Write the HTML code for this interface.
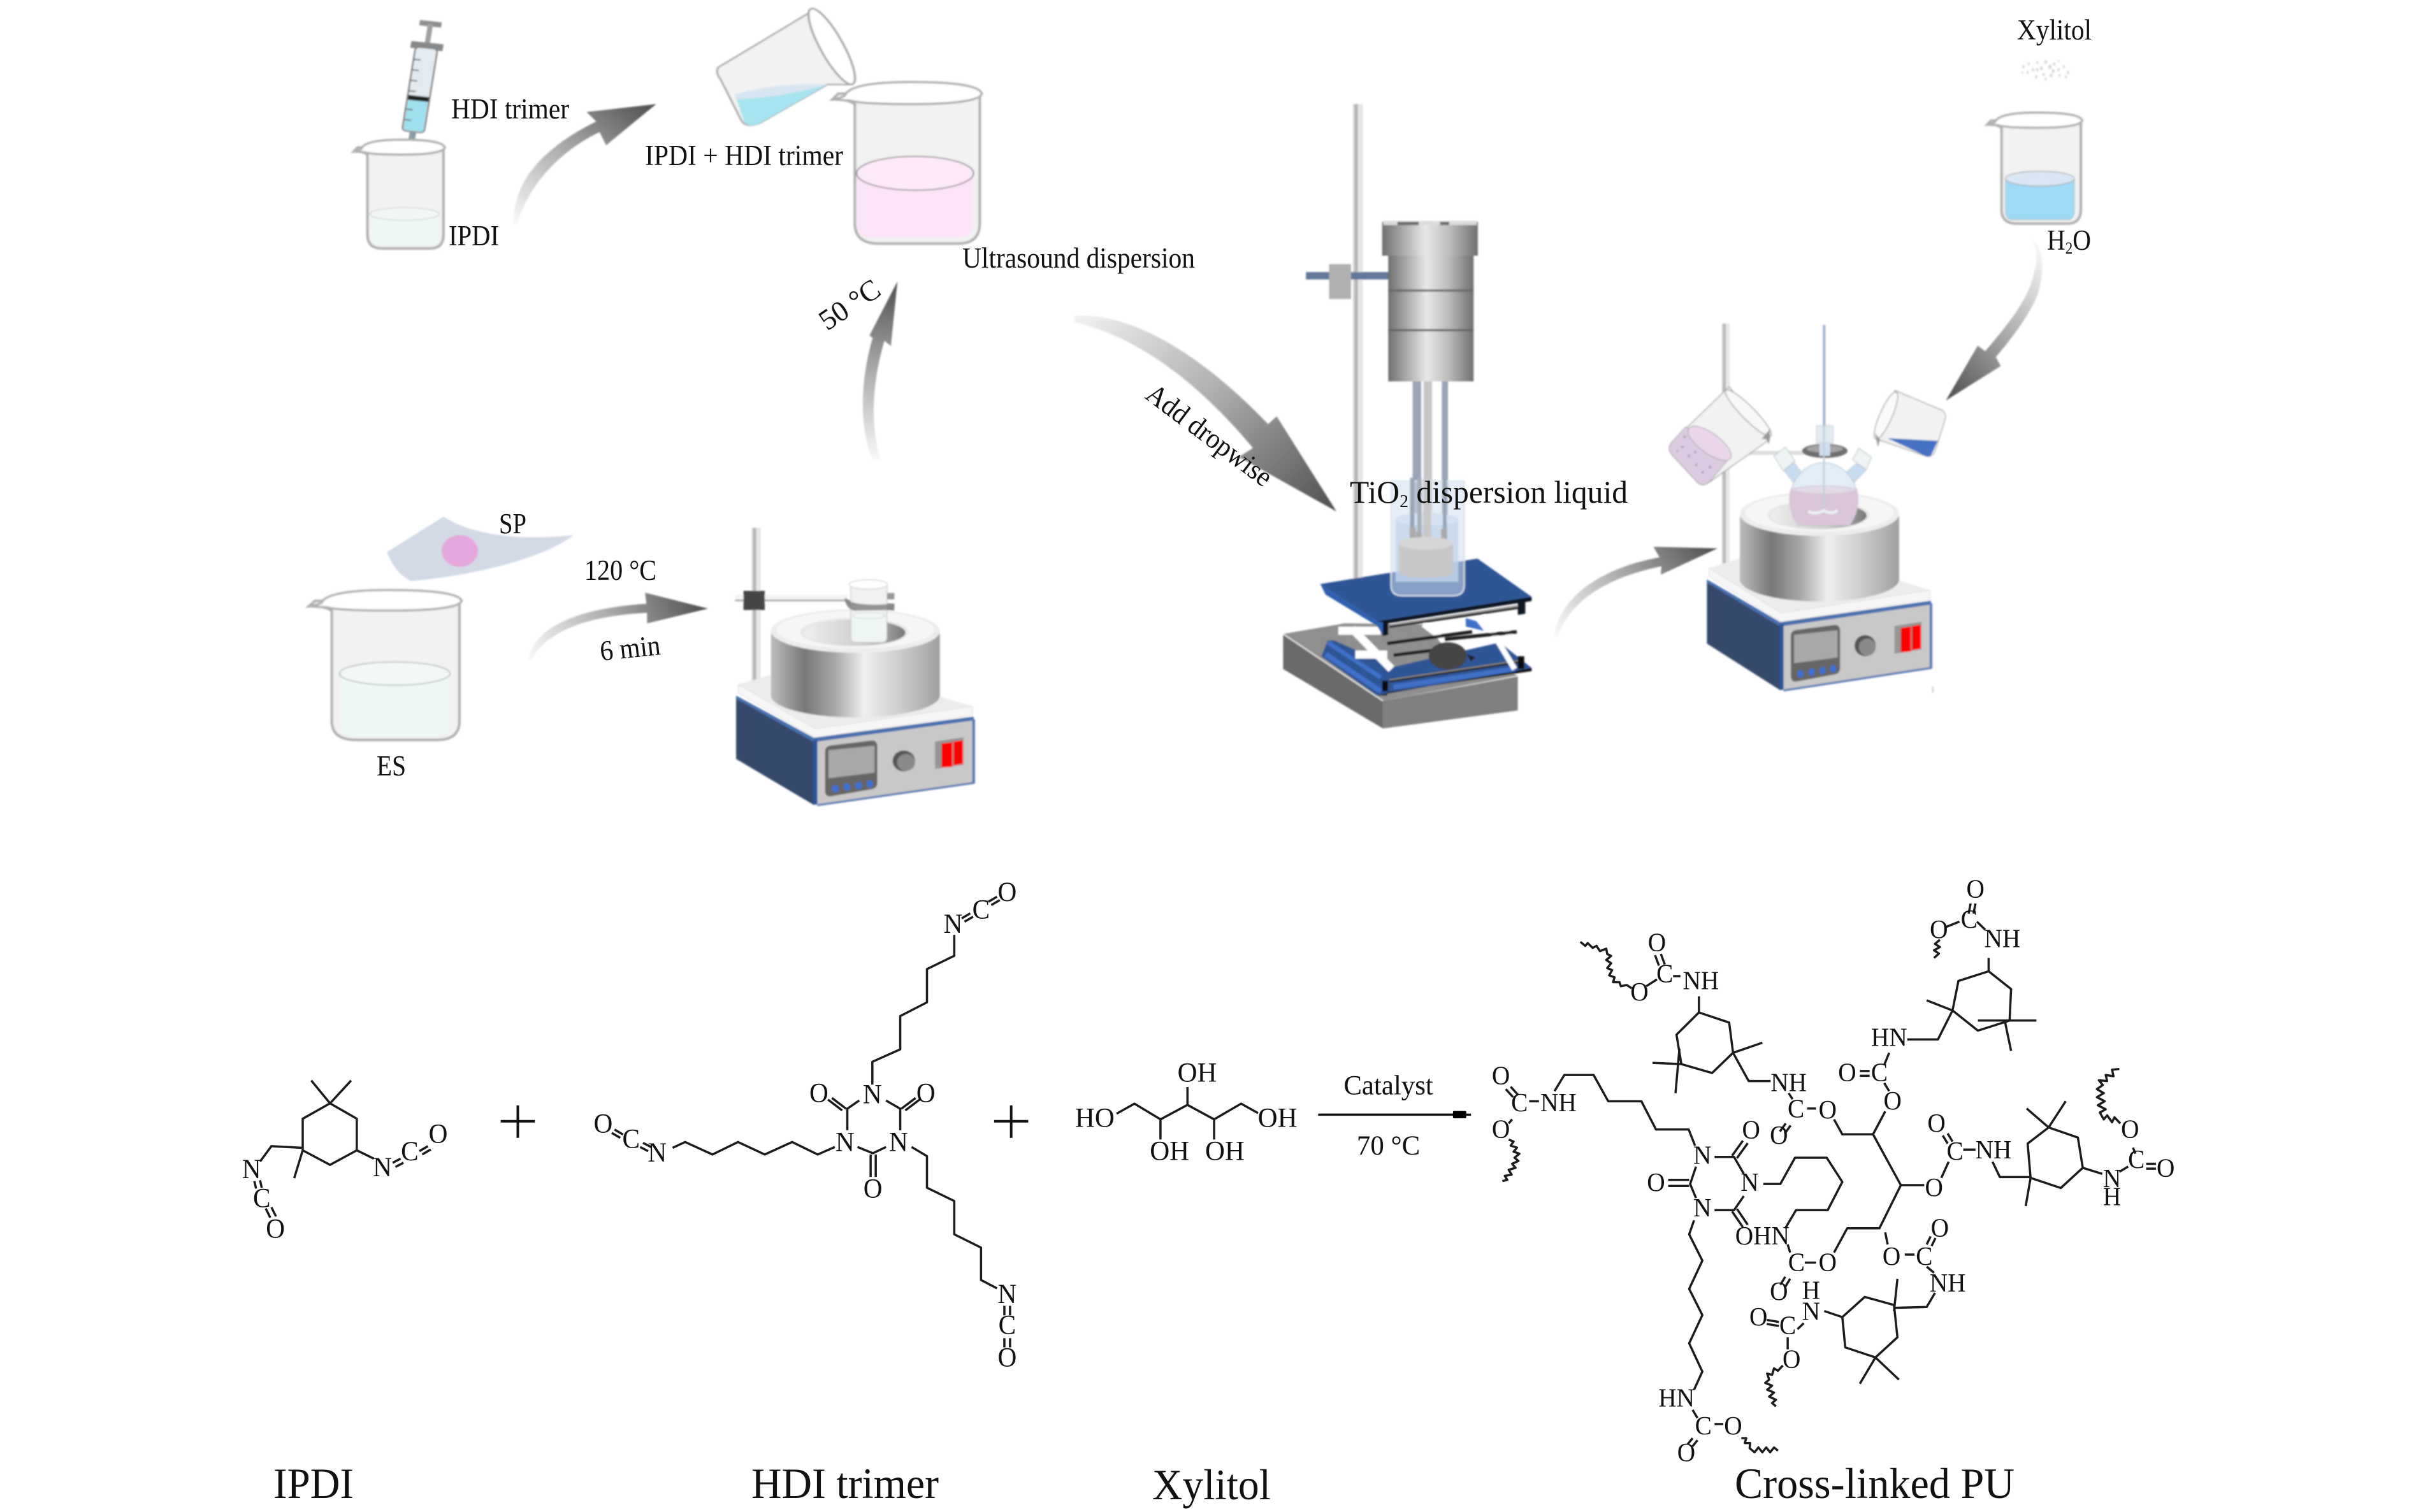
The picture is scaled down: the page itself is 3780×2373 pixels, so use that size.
<!DOCTYPE html>
<html><head><meta charset="utf-8"><title>PU synthesis</title>
<style>
html,body{margin:0;padding:0;background:#fff}
svg{display:block}
text{font-family:"Liberation Serif",serif;fill:#111}
.t44{font-size:45px}
.big{font-size:68px}
.b path,.b polyline,.b polygon,.b line{fill:none;stroke:#1c1c1c;stroke-width:3.5;stroke-linejoin:round;vector-effect:non-scaling-stroke}
.b .w{stroke-width:3.5}
.nss *{vector-effect:non-scaling-stroke}
.z3 text,.z4 text,.z5 text{text-anchor:middle;transform-box:fill-box;transform-origin:center}
.z3 text{font-size:66px;transform:scale(.7,1)}
.z4 text{font-size:87px;transform:scale(.966,1)}
.z5 text{font-size:65px;transform:scale(.79,1)}
</style></head><body>
<svg xmlns="http://www.w3.org/2000/svg" width="3780" height="2373" viewBox="0 0 3780 2373">
<defs>
<filter id="soft" filterUnits="userSpaceOnUse" x="0" y="0" width="3780" height="1350"><feGaussianBlur stdDeviation="1.4"/></filter>
<linearGradient id="cyl"><stop offset="0" stop-color="#bdbdbd"/><stop offset=".2" stop-color="#787878"/><stop offset=".38" stop-color="#a8a8a8"/><stop offset=".55" stop-color="#efefef"/><stop offset=".75" stop-color="#cfcfcf"/><stop offset="1" stop-color="#a0a0a0"/></linearGradient>
<linearGradient id="us"><stop offset="0" stop-color="#6f6f6f"/><stop offset=".45" stop-color="#e8e8e8"/><stop offset=".7" stop-color="#bdbdbd"/><stop offset="1" stop-color="#707070"/></linearGradient>
<linearGradient id="hole" x1="0" x2="1" y1="0" y2="0"><stop offset="0" stop-color="#eee"/><stop offset=".6" stop-color="#ccc"/><stop offset="1" stop-color="#777"/></linearGradient>
<linearGradient id="rod"><stop offset="0" stop-color="#e6e6e6"/><stop offset=".35" stop-color="#a8a8a8"/><stop offset=".65" stop-color="#eee"/><stop offset="1" stop-color="#ddd"/></linearGradient>
<linearGradient id="a1" gradientUnits="userSpaceOnUse" x1="400" y1="425" x2="617" y2="197"><stop offset="0" stop-color="#f8f8f8"/><stop offset=".5" stop-color="#aaa"/><stop offset="1" stop-color="#4e4e4e"/></linearGradient>
<linearGradient id="a2" gradientUnits="userSpaceOnUse" x1="955" y1="870" x2="988" y2="533"><stop offset="0" stop-color="#f8f8f8"/><stop offset=".5" stop-color="#aaa"/><stop offset="1" stop-color="#4e4e4e"/></linearGradient>
<linearGradient id="a3" gradientUnits="userSpaceOnUse" x1="422" y1="1250" x2="697" y2="1152"><stop offset="0" stop-color="#f8f8f8"/><stop offset=".5" stop-color="#aaa"/><stop offset="1" stop-color="#4e4e4e"/></linearGradient>
<linearGradient id="a4" gradientUnits="userSpaceOnUse" x1="-15" y1="600" x2="415" y2="968"><stop offset="0" stop-color="#f2f2f2"/><stop offset=".5" stop-color="#aaa"/><stop offset="1" stop-color="#4e4e4e"/></linearGradient>
<linearGradient id="a5" gradientUnits="userSpaceOnUse" x1="775" y1="1205" x2="1040" y2="1038"><stop offset="0" stop-color="#f8f8f8"/><stop offset=".5" stop-color="#aaa"/><stop offset="1" stop-color="#4e4e4e"/></linearGradient>
<linearGradient id="a6" gradientUnits="userSpaceOnUse" x1="410" y1="838" x2="10" y2="1408"><stop offset="0" stop-color="#f8f8f8"/><stop offset=".5" stop-color="#aaa"/><stop offset="1" stop-color="#4e4e4e"/></linearGradient>

<g id="bk" class="nss">
  <path d="M0 32 Q18 30 30 40 V245 Q30 280 62 280 H168 Q197 280 197 245 V22 H8 Z" fill="#f2f2f2" stroke="#b0b0b0" stroke-width="4"/>
  <path d="M0 32 Q18 28 18 22 Q30 2 105 2 Q195 2 200 22 Q195 40 105 40 Q40 40 24 34 Z" fill="#fff" stroke="#b0b0b0" stroke-width="3.5"/>
</g>

<g id="heater" class="nss">
  <polygon points="245,990 600,895 1285,1078 585,1168" fill="#ececec"/>
  <polygon points="245,990 585,1168 1285,1078 1285,1115 585,1205 245,1025" fill="#f6f6f6" stroke="#ddd" stroke-width="1"/>
  <polygon points="235,1040 580,1215 580,1475 235,1290" fill="#36496b"/>
  <polygon points="580,1215 1290,1125 1290,1385 580,1475" fill="#c9c9c9"/>
  <polygon points="235,1035 580,1205 1290,1120 1290,1135 580,1222 235,1048" fill="#4a6fae"/>
  <polygon points="576,1215 596,1212 596,1473 576,1475" fill="#2f5595"/>
  <polygon points="596,1472 1294,1382 1294,1390 596,1480" fill="#5878b4"/>
  <polygon points="1284,1130 1296,1130 1296,1388 1284,1388" fill="#5878b4"/>
  <path d="M630 1260 Q630 1240 655 1236 L835 1216 Q862 1214 862 1240 V1385 Q862 1408 838 1412 L660 1440 Q630 1445 630 1418 Z" fill="#666"/>
  <polygon points="645,1255 850,1237 850,1345 645,1368" fill="#a9a9a9"/>
  <circle cx="675" cy="1410" r="15" fill="#3f6fd0"/><circle cx="727" cy="1403" r="15" fill="#3f6fd0"/><circle cx="778" cy="1397" r="15" fill="#3f6fd0"/><circle cx="828" cy="1390" r="15" fill="#3f6fd0"/>
  <ellipse cx="980" cy="1298" rx="50" ry="42" fill="#555"/><ellipse cx="990" cy="1304" rx="40" ry="34" fill="#8a8a8a"/>
  <polygon points="1118,1220 1245,1203 1245,1313 1118,1330" fill="#969696"/>
  <polygon points="1147,1228 1195,1222 1195,1322 1147,1325" fill="#f00"/><polygon points="1200,1220 1242,1215 1242,1310 1200,1316" fill="#f00"/>
  <path d="M390 785 V1035 A375 88 0 0 0 1140 1035 V785 Z" fill="url(#cyl)"/>
  <ellipse cx="765" cy="775" rx="375" ry="88" fill="#ececec"/>
  <ellipse cx="765" cy="770" rx="350" ry="75" fill="#f6f6f6"/>
  <ellipse cx="760" cy="780" rx="240" ry="58" fill="#e6e6e6"/>
  <ellipse cx="762" cy="782" rx="225" ry="52" fill="url(#hole)"/>
</g>
</defs>
<rect width="3780" height="2373" fill="#fff"/>

<g filter="url(#soft)">
<!-- ZOOM 1 region -->
<g transform="translate(400,0) scale(1.0204,.8291)">
  <path d="M398 425 C395 340 450 275 525 230 L510 212 L617 197 L540 275 L530 250 C470 285 420 350 403 425Z" fill="url(#a1)"/>
  <path d="M950 870 C925 800 935 700 950 640 L945 635 L988 533 L978 655 L968 645 C950 720 945 800 962 870Z" fill="url(#a2)"/>
  <path d="M420 1250 C430 1180 510 1150 602 1143 L600 1122 L697 1152 L603 1180 L603 1160 C520 1165 450 1190 425 1250Z" fill="url(#a3)"/>
  <!-- syringe -->
  <g transform="translate(270,45) rotate(7.5)">
    <rect x="-17" y="-5" width="34" height="10" fill="#8e8e8e"/>
    <rect x="-4" y="0" width="8" height="40" fill="#a0a0a0"/>
    <rect x="-25" y="36" width="50" height="13" fill="#888"/>
    <rect x="-17" y="46" width="34" height="160" rx="6" fill="#e4ebf0" stroke="#808080" stroke-width="2.5"/>
    <rect x="-15" y="146" width="30" height="58" fill="#9fe0ee"/>
    <rect x="-16" y="138" width="32" height="9" fill="#222"/>
    <path d="M-17 70H-6M-17 90H-6M-17 110H-6M-17 130H-6M-17 165H-6M-17 185H-6" stroke="#777" stroke-width="2.5"/>
    <rect x="-5" y="206" width="10" height="22" fill="#8c9ca3"/>
  </g>
  <!-- IPDI beaker -->
  <g transform="translate(152,263) scale(.7,.74)"><use href="#bk"/></g>
  <path d="M177 405 V450 Q177 465 195 465 H265 Q283 465 283 450 V405Z" fill="#eef6f6"/>
  <ellipse cx="230" cy="405" rx="53" ry="12" fill="#f3f6f6" stroke="#bbb" stroke-width="1"/>
  <!-- pink beaker -->
  <g transform="translate(888,153) scale(1.15,1.1)"><use href="#bk"/></g>
  <path d="M926 330 V425 Q926 450 950 450 H1080 Q1105 450 1105 425 V330Z" fill="#fce4f8"/>
  <ellipse cx="1015" cy="328" rx="90" ry="32" fill="#fdeaf9" stroke="#888" stroke-width="2"/>
  <!-- pouring beaker -->
  <path d="M858 20 L712 128 Q708 138 716 150 L748 228 Q756 244 778 232 L880 160 L915 160 Z" fill="#f2f2f2" stroke="#aaa" stroke-width="3"/>
  <path d="M738 178 Q810 160 880 160 L778 232 Q760 244 752 230Z" fill="#a8e4f0"/>
  <path d="M738 178 Q810 155 880 160 Q810 185 740 188Z" fill="#d8e6f2"/>
  <ellipse cx="887" cy="88" rx="78" ry="18" transform="rotate(66 887 88)" fill="#fff" stroke="#aaa" stroke-width="3.5"/>
  <!-- ES beaker -->
  <g transform="translate(83,1115) scale(1.175,1.02)"><use href="#bk"/></g>
  <path d="M130 1275 V1370 Q130 1392 155 1392 H275 Q300 1392 300 1370 V1275Z" fill="#eef6f6"/>
  <ellipse cx="215" cy="1275" rx="85" ry="22" fill="#f2f7f7" stroke="#aaa" stroke-width="1.5"/>
  <!-- SP -->
  <path d="M290 978 C330 1010 400 1025 490 1013 C440 1060 330 1090 240 1100 Q215 1085 203 1045Z" fill="#d3dae6"/>
  <ellipse cx="315" cy="1043" rx="28" ry="30" fill="#e4a8dc"/>
</g>

<!-- Heater 1 -->
<g transform="translate(1120,870) scale(.3333)">
  <rect x="178" y="-125" width="42" height="745" fill="url(#rod)"/>
</g>
<g transform="translate(1072,688) scale(.3533,.39)"><use href="#heater"/></g>
<g transform="translate(1120,870) scale(.3333)">
  <rect x="100" y="190" width="530" height="36" fill="#f4f4f4"/><rect x="100" y="214" width="530" height="6" fill="#8a8a8a"/>
  <rect x="140" y="172" width="100" height="90" fill="#444"/>
  <rect x="800" y="182" width="50" height="30" fill="#999"/>
  <path d="M618 205 Q610 235 650 245 L850 265 V232 L650 222Z" fill="#888"/>
  <path d="M645 140 V390 Q645 415 670 415 H790 Q815 415 815 390 V140Z" fill="#f1f1f1" stroke="#c9c9c9" stroke-width="4"/>
  <path d="M655 290 V390 Q655 408 675 408 H785 Q805 408 805 390 V290Z" fill="#edf5f5"/>
  <ellipse cx="730" cy="288" rx="75" ry="14" fill="#f3f7f7" stroke="#bbb" stroke-width="2"/>
  <ellipse cx="728" cy="142" rx="90" ry="22" fill="#fff" stroke="#ccc" stroke-width="4"/>
  <path d="M618 205 Q660 250 850 232 V262 L660 265 Q620 255 618 205Z" fill="#888" opacity=".9"/>
</g>

<!-- ZOOM 2 region: ultrasonic -->
<g transform="translate(1700,0) scale(.9566,.8291)">
  <path d="M-15 598 C90 590 210 690 303 803 L317 788 L415 968 L255 865 L278 848 C200 740 100 640 -15 610Z" fill="url(#a4)"/>
  <path d="M772 1205 C780 1130 850 1075 945 1055 L935 1035 L1040 1038 L947 1088 L948 1072 C870 1090 800 1130 778 1205Z" fill="url(#a5)"/>
  <rect x="442" y="197" width="16" height="900" fill="url(#rod)"/>
  <rect x="365" y="515" width="140" height="14" fill="#64789a"/>
  <rect x="403" y="500" width="36" height="66" fill="#b0b0b0"/>
  <rect x="540" y="720" width="14" height="290" fill="#9aa5b5"/>
  <rect x="558" y="718" width="14" height="300" fill="#c6c6c6"/>
  <rect x="588" y="720" width="10" height="280" fill="#9aa5b5"/>
  <rect x="500" y="480" width="140" height="242" fill="url(#us)"/>
  <rect x="490" y="420" width="157" height="64" fill="url(#us)"/>
  <rect x="492" y="418" width="153" height="8" fill="#ddd"/>
  <rect x="515" y="420" width="35" height="6" fill="#666"/><rect x="585" y="420" width="15" height="6" fill="#666"/>
  <path d="M500 550 H640 M500 625 H640" stroke="#666" stroke-width="4"/>
</g>
<!-- Lab jack + beaker zoom8 -->
<g transform="translate(2000,680) scale(.3333)">
  <polygon points="40,945 330,895 720,900 780,985 1145,1140 510,1260" fill="#8f8f8f"/>
  <polygon points="40,945 510,1260 510,1390 40,1110" fill="#6b6b6b"/>
  <polygon points="510,1260 1145,1145 1145,1305 510,1390" fill="#808080"/>
  <path d="M40 945 L510 1260" stroke="#e8e8e8" stroke-width="6"/>
  <polygon points="250,975 280,975 560,1100 1060,985 1210,1105 480,1235 220,1050" fill="#2f5595"/>
  <polygon points="480,1235 1210,1105 1210,1120 530,1220 530,1235" fill="#111"/>
  <path d="M240 1040 L500 1215 M560 1195 L1130 1110" stroke="#3f6fc8" stroke-width="24"/>
  <path d="M250 985 L500 1150" stroke="#3f6fc8" stroke-width="20"/>
  <path d="M520 1215 V1165" stroke="#111" stroke-width="28"/><path d="M1160 1110 V1050" stroke="#111" stroke-width="30"/>
  <path d="M540 1165 L1145 1075" stroke="#222" stroke-width="16"/><path d="M540 1161 L1145 1071" stroke="#999" stroke-width="5"/>
  <path d="M300 930 H500 M365 920 L550 1110 M380 1042 H530" stroke="#fff" stroke-width="38"/>
  <path d="M700 900 L800 975 M980 860 L1130 1110 M1050 860 L1135 1000" stroke="#fff" stroke-width="26"/>
  <polygon points="900,870 950,885 985,930 900,910" fill="#3f6fc8"/>
  <path d="M530 990 L930 935 M800 970 L1140 935" stroke="#1c1c1c" stroke-width="16"/>
  <path d="M560 1045 L760 1020" stroke="#1c1c1c" stroke-width="16"/>
  <ellipse cx="815" cy="1048" rx="90" ry="64" fill="#444"/>
  <polygon points="905,1040 945,1055 925,1075" fill="#222"/>
  <polygon points="215,710 955,590 1210,770 480,885" fill="#2f5595"/>
  <polygon points="480,885 1210,770 1210,790 1180,795 1180,850 1145,855 1145,800 535,895 535,950 510,955 480,900" fill="#0e1524"/>
  <path d="M540 908 L1145 818" stroke="#1c1c1c" stroke-width="18"/><path d="M540 903 L1145 813" stroke="#aaa" stroke-width="7"/>
  <polygon points="215,710 480,885 510,890 510,950 480,905 240,760" fill="#2f5fb0"/>
  <path d="M548 225 V715 Q548 765 600 765 H840 Q893 765 893 715 V225Z" fill="#d2deee" fill-opacity=".55" stroke="#dbe3ec" stroke-width="6"/>
  <path d="M570 405 V700 H865 V405Z" fill="#c4d6ee" fill-opacity=".8"/>
  <ellipse cx="717" cy="405" rx="148" ry="30" fill="#d5e2f2"/>
  <rect x="638" y="210" width="20" height="260" fill="#98a5b6"/>
  <rect x="672" y="210" width="20" height="290" fill="#a6aeb8"/>
  <rect x="700" y="210" width="36" height="300" fill="#c8c8c8"/>
  <rect x="792" y="210" width="18" height="260" fill="#98a5b6"/>
  <rect x="636" y="445" width="28" height="60" fill="#aaa"/><rect x="665" y="465" width="28" height="50" fill="#aaa"/><rect x="784" y="450" width="28" height="50" fill="#aaa"/>
  <path d="M585 520 V650 Q585 680 712 680 Q840 680 840 650 V520Z" fill="#c8c8c8"/>
  <ellipse cx="712" cy="518" rx="127" ry="30" fill="#d6d6d6"/>
</g>

<!-- Heater 2 zoom6 -->
<g transform="translate(2600,500) scale(.3333,.3954)">
  <rect x="305" y="20" width="36" height="975" fill="url(#rod)"/>
  <use href="#heater"/>
  <rect x="420" y="525" width="280" height="16" fill="#ddd"/>
  <path d="M664 820 A160 150 0 1 1 906 820Z" fill="#e3edf7" stroke="#b9c4d2" stroke-width="3"/>
  <path d="M629 675 Q785 650 941 675 A160 150 0 0 1 906 820 H664 A160 150 0 0 1 629 675Z" fill="#d8c5d8"/>
  <path d="M630 680 Q785 650 940 680 Q785 710 630 680Z" fill="#e2dbe6"/>
  <polygon points="595,600 645,570 680,610 640,650" fill="#c8dcf0" stroke="#b9c4d2" stroke-width="2"/>
  <polygon points="550,545 605,510 650,565 595,605" fill="#eef3f3" stroke="#aeb6bd" stroke-width="2.5"/>
  <polygon points="945,570 985,600 930,650 890,610" fill="#c8dcf0" stroke="#b9c4d2" stroke-width="2"/>
  <polygon points="950,515 1010,550 985,600 920,560" fill="#eef3f3" stroke="#aeb6bd" stroke-width="2.5"/>
  <ellipse cx="790" cy="525" rx="107" ry="28" fill="#6e6e6e"/>
  <ellipse cx="790" cy="517" rx="85" ry="15" fill="#a4a4a4"/>
  <rect x="750" y="425" width="80" height="70" fill="#e2eaf0" stroke="#b5bfc9" stroke-width="2"/>
  <rect x="765" y="490" width="50" height="55" fill="#cfdfee"/>
  <rect x="781" y="25" width="12" height="400" fill="#9db3cf"/>
  <rect x="782" y="425" width="8" height="330" fill="#c2cedc"/>
  <path d="M712 765 Q745 780 785 762 Q825 780 850 760" stroke="#eef1f5" stroke-width="12" fill="none"/>
  <path d="M340 270 L70 490 Q45 515 70 540 L190 650 Q215 670 245 650 L530 480Z" fill="#f2f2f2" stroke="#a0a0a0" stroke-width="3.5"/>
  <path d="M135 430 L70 490 Q45 515 70 540 L190 650 Q215 670 245 650 L350 545Z" fill="#dccbe0" stroke="#a0a0a0" stroke-width="2.5"/>
  <ellipse cx="248" cy="495" rx="115" ry="42" transform="rotate(30 248 495)" fill="#ead6ea" stroke="#999" stroke-width="2.5"/>
  <g fill="#a998ad"><circle cx="120" cy="510" r="5"/><circle cx="150" cy="545" r="5"/><circle cx="185" cy="580" r="5"/><circle cx="215" cy="610" r="5"/><circle cx="130" cy="470" r="5"/><circle cx="180" cy="530" r="5"/><circle cx="250" cy="590" r="5"/><circle cx="95" cy="525" r="4"/></g>
  <ellipse cx="430" cy="375" rx="140" ry="28" transform="rotate(40 430 375)" fill="#f8f8f8" stroke="#a0a0a0" stroke-width="4"/>
  <path d="M530 440 Q535 480 525 500 Q520 470 490 480Z" fill="#999"/>
  <path d="M1120 285 L1345 365 Q1365 380 1355 405 L1310 525 Q1295 552 1265 545 L1040 480Z" fill="#f2f2f2" stroke="#a0a0a0" stroke-width="3.5"/>
  <path d="M1085 475 L1322 485 L1295 535 Q1285 552 1265 545Z" fill="#4472c4"/>
  <ellipse cx="1078" cy="385" rx="105" ry="28" transform="rotate(-62 1078 385)" fill="#fafafa" stroke="#a0a0a0" stroke-width="4"/>
  <path d="M1027 455 L1040 510 L1050 480Z" fill="#999"/>
  <rect x="1296" y="1460" width="5" height="25" fill="#bbb"/>
</g>

<!-- zoom 7 -->
<g transform="translate(3050,0) scale(.3333,.4464)">
  <g fill="#d6d6d6">
    <circle cx="375" cy="235" r="6"/><circle cx="400" cy="225" r="5"/><circle cx="420" cy="245" r="6"/><circle cx="440" cy="220" r="5"/><circle cx="460" cy="240" r="7"/><circle cx="480" cy="218" r="7"/><circle cx="500" cy="235" r="8"/><circle cx="520" cy="225" r="6"/><circle cx="540" cy="245" r="6"/><circle cx="565" cy="235" r="5"/><circle cx="585" cy="255" r="6"/><circle cx="395" cy="255" r="5"/><circle cx="435" cy="270" r="6"/><circle cx="470" cy="262" r="6"/><circle cx="505" cy="265" r="7"/><circle cx="545" cy="265" r="5"/><circle cx="575" cy="270" r="5"/><circle cx="440" cy="245" r="6"/><circle cx="515" cy="250" r="7"/><circle cx="480" cy="278" r="5"/><circle cx="540" cy="215" r="4"/><circle cx="370" cy="255" r="4"/>
  </g>
  <g transform="translate(205,393) scale(2.235,1.404)"><use href="#bk"/></g>
  <path d="M290 625 V740 Q290 773 325 773 H580 Q615 773 615 740 V625Z" fill="#9fdaf5" stroke="#aaa" stroke-width="2"/>
  <ellipse cx="452" cy="628" rx="163" ry="26" fill="#dbe7f5" stroke="#aaa" stroke-width="3"/>
  <path d="M410 838 C470 860 480 950 440 1040 C400 1110 320 1190 245 1255 L268 1287 L10 1408 L160 1215 L195 1235 C280 1160 370 1080 410 1000 C440 930 450 880 410 838Z" fill="url(#a6)"/>
</g>
</g>

<!-- Upper labels -->
<g class="t44">
<text x="708" y="186" textLength="185" lengthAdjust="spacingAndGlyphs">HDI trimer</text>
<text x="704" y="385" textLength="79" lengthAdjust="spacingAndGlyphs">IPDI</text>
<text x="1012" y="259" textLength="311" lengthAdjust="spacingAndGlyphs">IPDI + HDI trimer</text>
<text x="1510" y="420" textLength="365" lengthAdjust="spacingAndGlyphs">Ultrasound dispersion</text>
<text transform="translate(1298,520) rotate(-34)" textLength="105" lengthAdjust="spacingAndGlyphs">50 °C</text>
<text x="783" y="837" textLength="43" lengthAdjust="spacingAndGlyphs">SP</text>
<text x="917" y="910" textLength="113" lengthAdjust="spacingAndGlyphs">120 °C</text>
<text transform="translate(943,1037) rotate(-6)" textLength="95" lengthAdjust="spacingAndGlyphs">6 min</text>
<text x="591" y="1217" textLength="46" lengthAdjust="spacingAndGlyphs">ES</text>
<text transform="translate(1795,624) rotate(37)" textLength="235" lengthAdjust="spacingAndGlyphs">Add dropwise</text>
<text x="3165" y="62" textLength="117" lengthAdjust="spacingAndGlyphs">Xylitol</text>
<text x="3212" y="392" textLength="69" lengthAdjust="spacingAndGlyphs">H<tspan font-size="26" dy="6">2</tspan><tspan dy="-6">O</tspan></text>
</g>
<text x="2118" y="789" font-size="50" textLength="436" lengthAdjust="spacingAndGlyphs">TiO<tspan font-size="28" dy="7">2</tspan><tspan dy="-7"> dispersion liquid</tspan></text>

<!-- Bottom labels -->
<text class="big" x="429" y="2351" textLength="126" lengthAdjust="spacingAndGlyphs">IPDI</text>
<text class="big" x="1179" y="2351" textLength="294" lengthAdjust="spacingAndGlyphs">HDI trimer</text>
<text class="big" x="1808" y="2353" textLength="186" lengthAdjust="spacingAndGlyphs">Xylitol</text>
<text class="big" x="2722" y="2351" textLength="439" lengthAdjust="spacingAndGlyphs">Cross-linked PU</text>

<!-- IPDI + HDI trimer molecules -->
<g class="z3" transform="translate(350,1350) scale(.8929,.6524)">
<g class="b">
<polygon points="188,585 235,622 235,698 188,733 140,698 140,622"/>
<path d="M188 585 L155 530 M188 585 L225 530 M140 698 L125 765 M140 692 L85 688 L65 725 M235 698 L265 718"/>
<path d="M298 728 L312 718 M303 738 L317 728 M345 700 L360 688 M350 708 L365 696"/>
<path d="M55 772 L58 790 M65 770 L68 788 M75 838 L83 860 M85 835 L93 857"/>
<path d="M1141 540 L1141 485 L1190 455 L1190 375 L1237 342 L1237 262 L1285 230 L1285 180"/>
<path d="M1298 140 L1313 128 M1303 148 L1318 136 M1345 100 L1360 88 M1350 108 L1365 96"/>
<path d="M1118 578 L1097 598 L1097 650 M1165 578 L1190 598 L1190 650 M1115 690 L1142 705 L1165 690"/>
<path d="M1095 598 L1070 572 M1088 602 L1063 576 M1192 598 L1217 572 M1199 602 L1224 576 M1138 708 L1138 762 M1147 708 L1147 762"/>
<path d="M1075 690 L1045 708 L1000 678 L952 708 L905 678 L860 708 L812 678 L790 692"/>
<path d="M738 680 L752 690 M733 690 L747 700 M688 648 L703 660 M683 656 L698 668"/>
<path d="M1210 690 L1237 712 L1237 788 L1285 820 L1285 900 L1332 932 L1332 1010 L1360 1030"/>
<path d="M1373 1072 L1373 1095 M1383 1072 L1383 1095 M1373 1150 L1373 1172 M1383 1150 L1383 1172"/>
<path d="M488 628 H548 M518 590 V668 M1355 628 H1415 M1385 590 V668" style="stroke:#111;stroke-width:4"/>
</g>
<text x="50" y="765">N</text><text x="68" y="835">C</text><text x="92" y="908">O</text>
<text x="280" y="760">N</text><text x="328" y="722">C</text><text x="378" y="680">O</text>
<text x="1378" y="98">O</text><text x="1332" y="140">C</text><text x="1283" y="175">N</text>
<text x="1141" y="585">N</text><text x="1047" y="582">O</text><text x="1235" y="582">O</text>
<text x="1093" y="700">N</text><text x="1187" y="700">N</text><text x="1142" y="812">O</text>
<text x="668" y="655">O</text><text x="717" y="692">C</text><text x="763" y="725">N</text>
<text x="1378" y="1065">N</text><text x="1378" y="1140">C</text><text x="1378" y="1218">O</text>
</g>

<!-- Xylitol -->
<g class="z4" transform="translate(1650,1600) scale(.5102,.493)">
<g class="b">
<polyline points="200,300 255,268 335,318 418,272 500,318 583,268 635,298"/>
<path d="M335 318 V382 M418 272 V215 M500 318 V382"/>
<path d="M820 303 H1290" style="stroke:#111;stroke-width:3.5"/>
<path d="M1238 295 H1272 L1272 311 H1238 Z" style="fill:#000;stroke:#000"/>
</g>
<text x="133" y="342">HO</text><text x="448" y="198">OH</text><text x="695" y="342">OH</text>
<text x="363" y="447">OH</text><text x="533" y="447">OH</text>
<text x="1036" y="238">Catalyst</text><text x="1036" y="430">70 °C</text>
</g>

<!-- Cross-linked PU -->
<g class="z5" transform="translate(2300,1380) scale(.7653,.6333)">
<g class="b">
<polyline class="w" points="235,155 245,165 250,158 260,170 268,165 275,178 288,172 290,185 298,190 288,200 298,208 290,220 300,225 294,238 305,243 302,255 315,255 318,265 330,262 340,270"/>
<path d="M388 188 L396 214 M400 185 L408 211 M425 240 L440 240 M370 265 L392 248"/>
<path d="M478 290 L478 330"/>
<polygon points="478,330 540,355 548,430 505,480 442,458 432,385"/>
<path d="M383 455 L442 458 M438 420 L430 530 M548 430 L608 405 M548 430 L580 500 L625 500"/>
<path d="M662 530 L670 545 M700 568 L718 568 M656 605 L644 625 M666 610 L654 630"/>
<path d="M755 595 L772 632 L835 632 L892 758 L848 865 L782 865 L755 925 M835 632 L860 575 M892 758 L940 758"/>
<path d="M868 430 L858 460 M905 397 L968 397 L998 325"/>
<polygon points="998,325 1010,252 1072,228 1118,272 1115,350 1050,375"/>
<path d="M998 325 L945 300 M1050 350 L1170 350 M1105 350 L1118 425 M1072 195 L1072 228"/>
<path d="M1035 60 L1031 85 M1045 60 L1041 85 M985 118 L1012 105 M1048 105 L1065 125"/>
<polyline class="w" points="972,150 962,160 972,168 960,176 970,184 960,195"/>
<path d="M808 475 L828 475 M808 487 L828 487 M858 505 L868 525"/>
<path d="M510 688 L550 688 L570 730 M570 785 L550 820 L510 820 M472 790 L460 755 L472 712"/>
<path d="M546 685 L568 648 M556 691 L578 654 M546 823 L568 862 M556 817 L578 856 M415 745 L458 745 M415 760 L458 760"/>
<path d="M470 660 L457 620 L390 620 L360 550 L292 550 L262 485 L202 485 L182 525"/>
<path d="M130 550 L150 550 M82 520 L97 540 M92 514 L107 534 M95 595 L88 605"/>
<polyline class="w" points="88,645 98,650 92,660 105,665 98,675 110,680 100,690 108,698 95,705 102,715 88,720 94,732 80,735 85,745 75,748"/>
<path d="M610 755 L645 755 L675 690 L740 690 L772 750 L742 820 L677 820 L655 865"/>
<path d="M468 845 L458 880 L485 945 L458 1015 L485 1080 L458 1150 L485 1220 L468 1265"/>
<path d="M465 1315 L475 1335 M510 1350 L528 1350 M465 1385 L455 1400 M475 1390 L465 1405"/>
<polyline class="w" points="565,1385 575,1385 572,1397 583,1397 582,1410 592,1420 600,1408 608,1420 616,1408 624,1420 632,1408 640,1416"/>
<path d="M660 905 L665 925 M695 950 L718 950 M655 985 L645 1005 M665 990 L655 1010"/>
<polygon points="772,1085 818,1035 878,1055 885,1135 840,1185 778,1160"/>
<path d="M735 1070 L772 1085 M878 1062 L945 1060 L962 1025 M878 1070 L885 990 M840 1185 L808 1250 M840 1185 L888 1240"/>
<path d="M617 1092 L642 1097 M617 1102 L642 1107 M680 1115 L693 1100 M660 1135 L660 1165"/>
<polyline class="w" points="650,1205 640,1218 632,1212 628,1228 618,1225 622,1240 614,1248 628,1255 618,1265 632,1272 622,1282 636,1290 628,1298 636,1306"/>
<path d="M900 930 L920 930 M945 905 L953 885 M955 909 L963 889 M945 960 L960 975 M860 875 L865 905"/>
<polygon points="1195,615 1255,640 1265,715 1220,765 1158,740 1152,655"/>
<path d="M1195 615 L1150 568 M1195 615 L1230 550 M1158 740 L1148 810 M1158 738 L1095 738 L1080 700 M1265 715 L1305 730 M1340 725 L1358 712 M1395 705 L1415 705 M1395 717 L1415 717 M1368 665 L1373 680"/>
<polyline class="w" points="1342,605 1330,590 1325,602 1315,585 1308,595 1300,578 1312,570 1296,560 1310,550 1294,540 1308,530 1294,520 1306,510 1298,498 1315,500 1312,485 1328,488 1325,472 1340,470"/>
<path d="M1020 670 L1045 670 M978 635 L988 655 M988 630 L998 650 M975 740 L990 700"/>
</g>
<text x="392" y="178">O</text><text x="408" y="255">C</text><text x="482" y="272">NH</text><text x="356" y="300">O</text>
<text x="1045" y="45">O</text><text x="1032" y="120">C</text><text x="970" y="145">O</text><text x="1100" y="168">NH</text>
<text x="72" y="508">O</text><text x="110" y="575">C</text><text x="190" y="575">NH</text><text x="72" y="640">O</text>
<text x="868" y="413">HN</text><text x="782" y="500">O</text><text x="848" y="500">C</text><text x="875" y="570">O</text>
<text x="662" y="525">NH</text><text x="677" y="590">C</text><text x="742" y="592">O</text><text x="642" y="655">O</text>
<text x="585" y="642">O</text><text x="485" y="705">N</text><text x="390" y="772">O</text><text x="582" y="772">N</text><text x="485" y="835">N</text>
<text x="608" y="905">OHN</text><text x="678" y="970">C</text><text x="742" y="970">O</text><text x="642" y="1042">O</text>
<text x="965" y="625">O</text><text x="1003" y="695">C</text><text x="1082" y="692">NH</text><text x="960" y="785">O</text>
<text x="1362" y="640">O</text><text x="1375" y="715">C</text><text x="1435" y="737">O</text><text x="1325" y="763">N</text><text x="1325" y="808">H</text>
<text x="972" y="885">O</text><text x="873" y="955">O</text><text x="940" y="955">C</text><text x="988" y="1022">NH</text>
<text x="708" y="1040">H</text><text x="708" y="1092">N</text><text x="600" y="1105">O</text><text x="660" y="1127">C</text><text x="668" y="1210">O</text>
<text x="432" y="1307">HN</text><text x="487" y="1375">C</text><text x="548" y="1375">O</text><text x="452" y="1442">O</text>
</g>
</svg>
</body></html>
